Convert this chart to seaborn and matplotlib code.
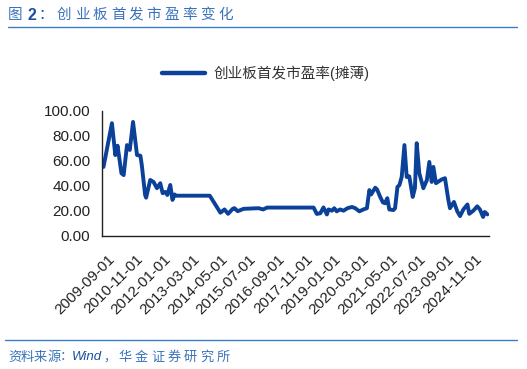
import matplotlib
matplotlib.use("Agg")
import matplotlib.pyplot as plt
import matplotlib.transforms as mtransforms
import seaborn as sns
import pandas as pd

# ---- data ----
dates = [
    "2009-10-01", "2010-02-05", "2010-03-28", "2010-05-01", "2010-06-28", "2010-08-01",
    "2010-09-20", "2010-11-01", "2010-12-20", "2011-02-18", "2011-04-10", "2011-05-01",
    "2011-06-20", "2011-07-05", "2011-09-05", "2011-10-25", "2011-12-15", "2012-02-03",
    "2012-03-10", "2012-04-18", "2012-05-20", "2012-07-03", "2012-08-05", "2012-09-05",
    "2012-10-01", "2014-02-18", "2014-07-28", "2014-09-28", "2014-11-20", "2015-02-01",
    "2015-02-25", "2015-04-15", "2015-07-12", "2016-02-25", "2016-05-01", "2016-07-01",
    "2017-06-01", "2018-01-01", "2018-06-01", "2018-07-20", "2018-09-10", "2018-10-28",
    "2018-12-18", "2019-01-12", "2019-03-05", "2019-04-08", "2019-05-15", "2019-07-05",
    "2019-08-25", "2019-10-25", "2020-01-01", "2020-02-18", "2020-04-20", "2020-06-20",
    "2020-08-12", "2020-09-18", "2020-10-15", "2020-12-15", "2021-01-12", "2021-02-28",
    "2021-04-10", "2021-05-12", "2021-06-15", "2021-07-15", "2021-09-15", "2021-10-10",
    "2021-11-15", "2021-12-15", "2022-01-18", "2022-02-28", "2022-04-03", "2022-05-12",
    "2022-07-03", "2022-08-05", "2022-09-01", "2022-10-10", "2022-12-10", "2023-02-01",
    "2023-03-10", "2023-04-15", "2023-05-10", "2023-06-18", "2023-09-12", "2023-11-01",
    "2023-12-22", "2024-01-15", "2024-03-15", "2024-05-04", "2024-06-15", "2024-08-04",
    "2024-10-04", "2024-11-01", "2025-01-01", "2025-03-01", "2025-04-10", "2025-05-28",
    "2025-06-22", "2025-08-01",
]
pe_values = [
    55.0, 90.0, 64.5, 72.0, 50.0, 48.5,
    72.5, 68.6, 91.0, 64.5, 64.0, 56.5,
    32.6, 30.4, 44.6, 43.0, 38.0, 42.0,
    34.0, 35.0, 32.6, 40.6, 28.6, 33.0,
    32.0, 32.0, 18.4, 21.0, 17.5, 21.6,
    22.0, 19.6, 21.5, 22.0, 21.0, 22.5,
    22.5, 22.5, 22.5, 17.4, 18.0, 22.6,
    17.0, 21.0, 20.0, 22.0, 19.5, 21.0,
    20.0, 22.0, 23.0, 22.0, 19.5, 21.0,
    22.0, 36.5, 33.0, 38.4, 37.0, 31.0,
    26.6, 26.0, 30.0, 21.0, 20.5, 22.0,
    39.0, 40.5, 47.0, 72.5, 47.0, 47.5,
    31.0, 38.0, 74.0, 50.0, 38.0, 44.5,
    59.0, 43.0, 55.0, 42.0, 45.0, 46.0,
    28.5, 22.0, 27.0, 19.5, 15.7, 21.0,
    25.0, 17.5, 20.0, 23.5, 21.0, 15.0,
    19.0, 17.0,
]
tick_dates = ["2009-09-01", "2010-11-01", "2012-01-01", "2013-03-01", "2014-05-01",
              "2015-07-01", "2016-09-01", "2017-11-01", "2019-01-01", "2020-03-01",
              "2021-05-01", "2022-07-01", "2023-09-01", "2024-11-01"]
y_ticks = [0, 20, 40, 60, 80, 100]
series_name = "创业板首发市盈率(摊薄)"
title_prefix = "图"
title_num = "2"
title_colon = "："
title_body = "创业板首发市盈率变化"
source_a = "资料来源："
source_b = "Wind"
source_comma = "，"
source_c = "华金证券研究所"

# ---- style ----
sns.set_theme(style="white")
plt.rcParams["font.family"] = ["Liberation Sans", "Noto Sans CJK SC", "DejaVu Sans"]

W, H = 527, 369
fig = plt.figure(figsize=(W / 100, H / 100), dpi=100)
ax = fig.add_axes([101.5 / W, 1 - 235.7 / H, (489 - 101.5) / W, (235.7 - 110.7) / H])

df = pd.DataFrame({"date": pd.to_datetime(dates), "pe": pe_values})
line_color = "#0b4199"
sns.lineplot(data=df, x="date", y="pe", ax=ax, color=line_color, linewidth=2.8,
             label=series_name)

ax.set_xlim(pd.Timestamp("2009-09-01"), pd.Timestamp("2025-08-25"))
ax.set_ylim(0, 100)
ax.set_yticks(y_ticks)
ax.set_yticklabels([f"{v:.2f}" for v in y_ticks])
tds = pd.to_datetime(tick_dates)
ax.set_xticks(tds)
ax.set_xticklabels(tick_dates, rotation=45, ha="right", rotation_mode="anchor")
ax.set_xlabel("")
ax.set_ylabel("")

for s in ["top", "right"]:
    ax.spines[s].set_visible(False)
for s in ["left", "bottom"]:
    ax.spines[s].set_color("#222222")
    ax.spines[s].set_linewidth(1.0)

ax.tick_params(axis="both", direction="in", length=4, width=1.0, color="#222222",
               labelcolor="#222222")
ax.tick_params(axis="y", labelsize=11, pad=8)
ax.tick_params(axis="x", labelsize=11, pad=0)
offset = mtransforms.ScaledTranslation(6 / 100, -16 / 100, fig.dpi_scale_trans)
for lab in ax.get_xticklabels():
    lab.set_transform(lab.get_transform() + offset)

leg = ax.legend(loc="center", bbox_to_anchor=(266 / W, 1 - 73 / H),
                bbox_transform=fig.transFigure, frameon=False, fontsize=10.5,
                handlelength=2.9, handletextpad=0.6)
for t in leg.get_texts():
    t.set_color("#333333")
for h in leg.get_lines():
    h.set_linewidth(3.2)

# ---- header / footer ----
cjk = ["Noto Sans CJK SC", "DejaVu Sans"]
light_blue = "#3b73bb"
dark_blue = "#1d4f9f"


def px(x, y):
    return x / W, 1 - y / H


def spaced(x, y, text, pitch, **kw):
    for i, ch in enumerate(text):
        fig.text(*px(x + i * pitch, y), ch, va="center", ha="left", **kw)


spaced(8, 15, title_prefix, 17.9, fontsize=10.5, color=light_blue, family=cjk)
fig.text(*px(27, 15), title_num, va="center", ha="left", fontsize=11.5,
         color=dark_blue, fontweight="bold", family=["Liberation Sans"])
fig.text(*px(38, 15), title_colon, va="center", ha="left", fontsize=10.5,
         color=dark_blue, family=cjk)
spaced(57, 15, title_body, 17.9, fontsize=10.5, color=light_blue, family=cjk)

fig.add_artist(plt.Line2D([8 / W, 517 / W], [1 - 27 / H, 1 - 27 / H],
                          transform=fig.transFigure, color="#3d7cc9", linewidth=1.0))
fig.add_artist(plt.Line2D([5 / W, 517 / W], [1 - 340 / H, 1 - 340 / H],
                          transform=fig.transFigure, color="#3d7cc9", linewidth=1.0))

spaced(8, 357, source_a, 13.0, fontsize=9.5, color=light_blue, family=cjk,
       style="italic")
fig.text(*px(72, 357), source_b, va="center", ha="left", fontsize=9.5,
         color=dark_blue, style="italic", family=["Liberation Sans"])
fig.text(*px(103, 357), source_comma, va="center", ha="left", fontsize=9.0,
         color=light_blue, family=cjk)
spaced(118, 357, source_c, 16.5, fontsize=9.5, color=light_blue, family=cjk,
       style="italic")

fig.savefig("out.png", dpi=100)
